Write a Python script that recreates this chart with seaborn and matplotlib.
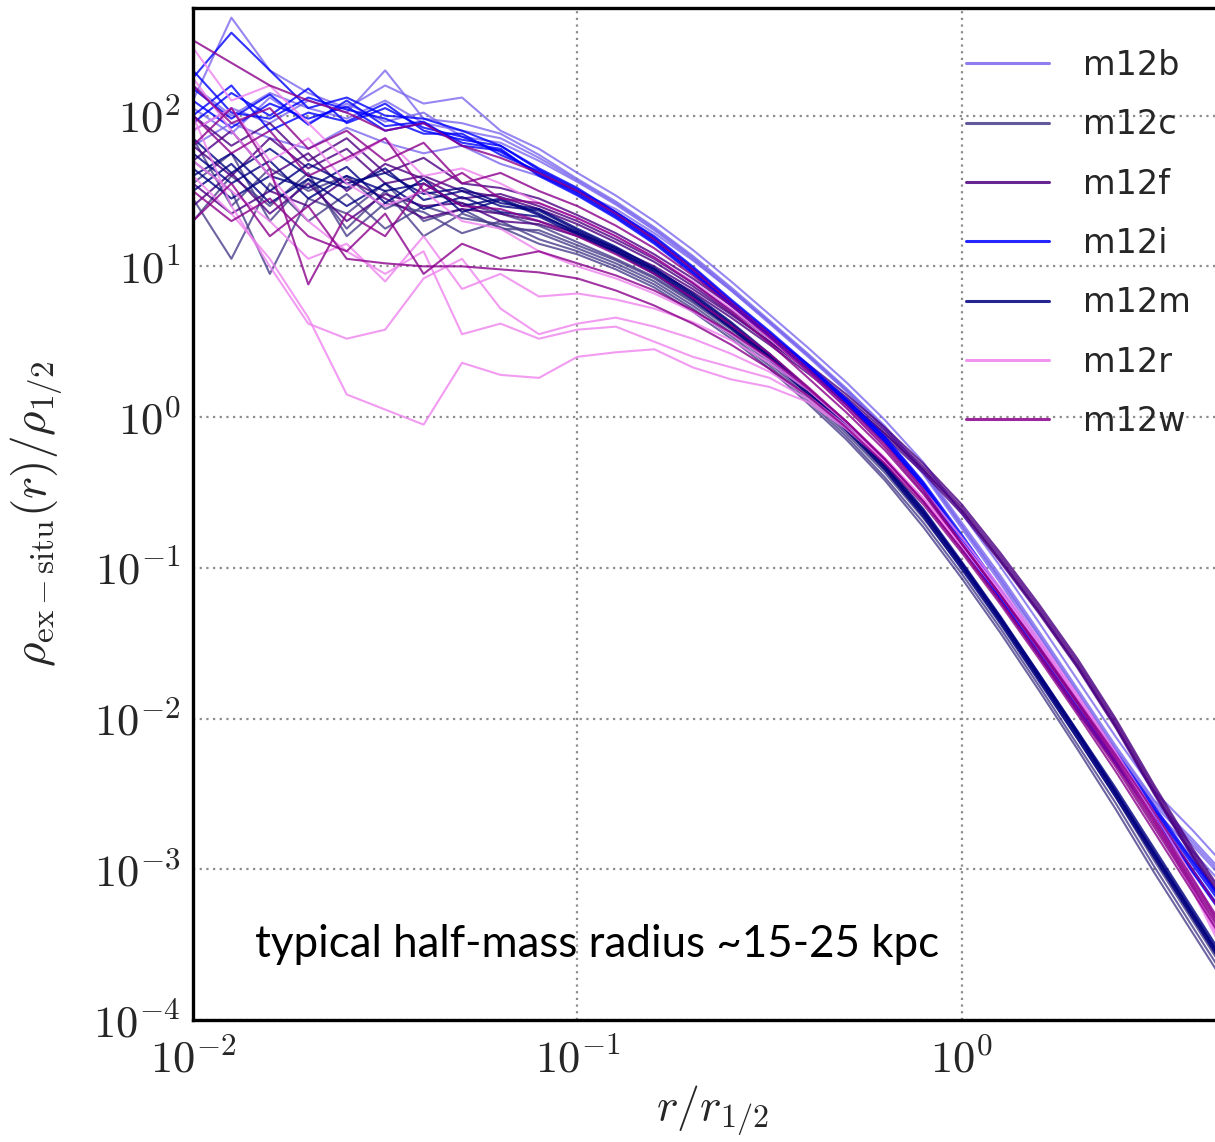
import matplotlib
matplotlib.use("Agg")
import matplotlib.pyplot as plt
import numpy as np
import pandas as pd
import seaborn as sns
from matplotlib.lines import Line2D
from matplotlib.ticker import LogLocator, FuncFormatter, NullFormatter

# log10(r / r_1/2) grid shared by every profile
log_r = [-2.0, -1.9, -1.8, -1.7, -1.6, -1.5, -1.4, -1.3, -1.2, -1.1,
         -1.0, -0.9, -0.8, -0.7, -0.6, -0.5, -0.4, -0.3, -0.2, -0.1,
         0.0, 0.1, 0.2, 0.3, 0.4, 0.5, 0.6, 0.7]

sims = ["m12b", "m12c", "m12f", "m12i", "m12m", "m12r", "m12w"]
sim_colors = ["#7b68ee", "#483d8b", "#4b0082", "#0000ff", "#000080", "#ee82ee", "#8b008b"]

# log10(rho_ex-situ / rho_1/2), several snapshots per halo
m12b = [
    [2.10, 2.65, 2.30, 2.15, 2.05, 2.20, 2.08, 2.12, 1.90, 1.78, 1.62, 1.47, 1.30, 1.11, 0.90, 0.68, 0.46, 0.23, -0.02, -0.30, -0.64, -0.99, -1.36, -1.74, -2.12, -2.48, -2.74, -3.02],
    [1.90, 2.05, 1.95, 2.10, 2.02, 2.30, 1.98, 1.95, 1.88, 1.74, 1.58, 1.43, 1.26, 1.07, 0.86, 0.64, 0.42, 0.19, -0.06, -0.35, -0.70, -1.05, -1.42, -1.80, -2.18, -2.54, -2.80, -3.08],
    [2.05, 1.88, 2.12, 1.95, 2.08, 1.96, 2.02, 1.86, 1.82, 1.70, 1.56, 1.41, 1.24, 1.05, 0.84, 0.62, 0.40, 0.17, -0.08, -0.38, -0.74, -1.10, -1.48, -1.86, -2.24, -2.60, -2.88, -3.16],
    [1.80, 1.95, 1.85, 1.78, 1.92, 1.82, 1.75, 1.80, 1.68, 1.60, 1.50, 1.38, 1.22, 1.04, 0.84, 0.63, 0.41, 0.18, -0.07, -0.36, -0.72, -1.08, -1.45, -1.83, -2.21, -2.57, -2.84, -3.12],
    [2.20, 2.00, 2.15, 2.05, 1.98, 2.10, 1.95, 1.90, 1.85, 1.72, 1.57, 1.42, 1.25, 1.06, 0.85, 0.63, 0.41, 0.18, -0.07, -0.37, -0.72, -1.07, -1.44, -1.82, -2.20, -2.55, -2.82, -3.10],
]
m12c = [
    [1.45, 1.05, 1.55, 1.30, 1.48, 1.25, 1.40, 1.32, 1.28, 1.22, 1.12, 1.02, 0.90, 0.74, 0.56, 0.36, 0.13, -0.11, -0.37, -0.67, -1.00, -1.36, -1.74, -2.13, -2.52, -2.94, -3.34, -3.74],
    [1.70, 1.50, 0.95, 1.45, 1.35, 1.55, 1.30, 1.38, 1.25, 1.24, 1.14, 1.04, 0.92, 0.76, 0.58, 0.38, 0.15, -0.09, -0.35, -0.65, -0.98, -1.34, -1.72, -2.10, -2.50, -2.92, -3.32, -3.72],
    [1.30, 1.60, 1.40, 1.62, 1.20, 1.42, 1.36, 1.22, 1.30, 1.18, 1.10, 1.00, 0.88, 0.72, 0.54, 0.34, 0.11, -0.13, -0.40, -0.70, -1.04, -1.40, -1.78, -2.17, -2.56, -2.98, -3.38, -3.78],
    [1.85, 1.40, 1.65, 1.50, 1.60, 1.38, 1.50, 1.42, 1.35, 1.27, 1.16, 1.05, 0.93, 0.77, 0.59, 0.39, 0.16, -0.08, -0.34, -0.64, -0.97, -1.33, -1.70, -2.08, -2.48, -2.90, -3.30, -3.70],
    [1.55, 1.75, 1.30, 1.58, 1.25, 1.50, 1.20, 1.35, 1.26, 1.15, 1.08, 0.98, 0.86, 0.70, 0.52, 0.32, 0.09, -0.15, -0.42, -0.73, -1.07, -1.43, -1.81, -2.20, -2.60, -3.02, -3.42, -3.82],
]
m12f = [
    [1.70, 1.90, 1.60, 1.75, 1.50, 1.68, 1.58, 1.45, 1.48, 1.40, 1.30, 1.18, 1.05, 0.89, 0.71, 0.52, 0.33, 0.13, -0.09, -0.33, -0.60, -0.92, -1.26, -1.62, -2.02, -2.46, -2.88, -3.26],
    [2.00, 1.80, 1.95, 1.70, 1.85, 1.62, 1.72, 1.55, 1.52, 1.45, 1.34, 1.22, 1.08, 0.92, 0.74, 0.55, 0.35, 0.15, -0.07, -0.31, -0.58, -0.90, -1.24, -1.60, -2.00, -2.44, -2.86, -3.24],
    [1.40, 1.62, 1.35, 1.55, 1.30, 1.48, 1.40, 1.42, 1.30, 1.28, 1.20, 1.10, 0.98, 0.83, 0.66, 0.48, 0.29, 0.09, -0.13, -0.37, -0.64, -0.96, -1.30, -1.66, -2.06, -2.50, -2.92, -3.30],
    [1.80, 1.60, 1.85, 1.65, 1.78, 1.55, 1.60, 1.50, 1.46, 1.38, 1.28, 1.16, 1.03, 0.87, 0.69, 0.50, 0.31, 0.11, -0.11, -0.35, -0.62, -0.94, -1.28, -1.64, -2.04, -2.48, -2.90, -3.28],
    [1.55, 1.35, 1.50, 1.40, 1.58, 1.45, 1.32, 1.38, 1.35, 1.30, 1.22, 1.12, 1.00, 0.85, 0.68, 0.50, 0.31, 0.11, -0.11, -0.35, -0.62, -0.95, -1.29, -1.65, -2.05, -2.49, -2.91, -3.29],
]
m12i = [
    [2.25, 2.55, 2.30, 2.05, 2.12, 2.00, 1.98, 1.90, 1.80, 1.65, 1.52, 1.36, 1.19, 0.99, 0.77, 0.56, 0.34, 0.11, -0.14, -0.44, -0.80, -1.16, -1.52, -1.88, -2.24, -2.60, -2.95, -3.30],
    [1.95, 2.15, 2.00, 2.18, 1.95, 2.05, 1.92, 1.86, 1.76, 1.62, 1.49, 1.34, 1.17, 0.97, 0.75, 0.54, 0.32, 0.09, -0.16, -0.46, -0.83, -1.20, -1.56, -1.92, -2.28, -2.64, -3.00, -3.36],
    [2.10, 1.92, 2.08, 1.98, 2.06, 1.90, 1.95, 1.82, 1.78, 1.60, 1.47, 1.32, 1.15, 0.95, 0.74, 0.53, 0.31, 0.08, -0.17, -0.48, -0.86, -1.22, -1.58, -1.95, -2.30, -2.66, -3.02, -3.38],
    [2.30, 2.02, 1.98, 2.12, 2.04, 1.98, 1.88, 1.88, 1.74, 1.63, 1.50, 1.35, 1.18, 0.98, 0.76, 0.55, 0.33, 0.10, -0.15, -0.45, -0.81, -1.17, -1.53, -1.89, -2.25, -2.61, -2.97, -3.32],
    [2.00, 2.20, 1.90, 2.02, 1.96, 2.08, 1.90, 1.84, 1.80, 1.64, 1.51, 1.36, 1.20, 1.00, 0.78, 0.57, 0.35, 0.12, -0.13, -0.43, -0.78, -1.14, -1.50, -1.86, -2.22, -2.58, -2.94, -3.28],
    [2.18, 1.98, 2.14, 1.94, 2.10, 1.93, 1.96, 1.80, 1.77, 1.61, 1.48, 1.33, 1.16, 0.96, 0.75, 0.54, 0.32, 0.09, -0.16, -0.47, -0.84, -1.21, -1.57, -1.93, -2.29, -2.65, -3.01, -3.37],
]
m12m = [
    [1.60, 1.75, 1.50, 1.68, 1.55, 1.62, 1.48, 1.52, 1.42, 1.38, 1.25, 1.13, 0.99, 0.82, 0.63, 0.42, 0.19, -0.05, -0.31, -0.61, -0.96, -1.32, -1.70, -2.08, -2.46, -2.86, -3.26, -3.66],
    [1.75, 1.55, 1.70, 1.45, 1.60, 1.50, 1.55, 1.40, 1.45, 1.35, 1.22, 1.10, 0.96, 0.79, 0.60, 0.40, 0.17, -0.07, -0.33, -0.64, -0.99, -1.35, -1.73, -2.11, -2.50, -2.90, -3.30, -3.70],
    [1.50, 1.68, 1.42, 1.58, 1.40, 1.55, 1.38, 1.46, 1.36, 1.33, 1.21, 1.09, 0.95, 0.78, 0.59, 0.38, 0.15, -0.09, -0.35, -0.66, -1.01, -1.37, -1.75, -2.13, -2.52, -2.92, -3.32, -3.72],
    [1.85, 1.62, 1.78, 1.60, 1.52, 1.65, 1.44, 1.50, 1.40, 1.37, 1.24, 1.12, 0.98, 0.81, 0.62, 0.41, 0.18, -0.06, -0.32, -0.62, -0.97, -1.33, -1.71, -2.09, -2.48, -2.88, -3.28, -3.68],
    [1.65, 1.45, 1.60, 1.52, 1.66, 1.42, 1.58, 1.36, 1.44, 1.34, 1.23, 1.11, 0.97, 0.80, 0.61, 0.40, 0.17, -0.07, -0.33, -0.63, -0.98, -1.34, -1.72, -2.10, -2.49, -2.89, -3.29, -3.69],
]
m12r = [
    [1.60, 1.35, 1.05, 0.66, 0.15, 0.05, -0.05, 0.36, 0.28, 0.26, 0.40, 0.43, 0.45, 0.33, 0.25, 0.20, 0.10, -0.08, -0.30, -0.56, -0.86, -1.18, -1.52, -1.88, -2.26, -2.68, -3.14, -3.65],
    [2.00, 1.40, 1.00, 0.62, 0.52, 0.58, 0.92, 1.05, 0.72, 0.55, 0.62, 0.66, 0.60, 0.52, 0.42, 0.30, 0.14, -0.06, -0.29, -0.55, -0.84, -1.16, -1.50, -1.86, -2.24, -2.66, -3.12, -3.62],
    [2.25, 1.90, 1.60, 1.30, 1.10, 0.95, 1.10, 0.55, 0.62, 0.52, 0.58, 0.60, 0.50, 0.40, 0.33, 0.26, 0.12, -0.07, -0.29, -0.54, -0.83, -1.15, -1.49, -1.85, -2.23, -2.65, -3.10, -3.60],
    [2.45, 2.10, 2.20, 1.95, 1.70, 1.85, 1.60, 1.65, 1.55, 1.42, 1.32, 1.20, 1.06, 0.90, 0.72, 0.52, 0.30, 0.06, -0.19, -0.48, -0.80, -1.13, -1.47, -1.84, -2.22, -2.62, -3.05, -3.50],
    [1.90, 2.05, 1.70, 1.85, 1.55, 1.40, 1.50, 1.30, 1.25, 1.10, 1.00, 0.92, 0.82, 0.70, 0.55, 0.38, 0.19, -0.03, -0.27, -0.54, -0.85, -1.17, -1.51, -1.87, -2.25, -2.67, -3.12, -3.60],
    [1.70, 1.50, 1.30, 1.05, 1.15, 0.90, 1.20, 0.85, 0.95, 0.80, 0.82, 0.78, 0.72, 0.63, 0.51, 0.36, 0.18, -0.04, -0.28, -0.55, -0.85, -1.17, -1.51, -1.87, -2.25, -2.66, -3.10, -3.58],
]
m12w = [
    [2.50, 2.35, 2.20, 2.10, 2.02, 1.90, 1.95, 1.80, 1.72, 1.62, 1.50, 1.35, 1.18, 0.98, 0.76, 0.55, 0.32, 0.08, -0.18, -0.48, -0.84, -1.18, -1.52, -1.88, -2.24, -2.62, -3.00, -3.38],
    [1.30, 1.55, 1.20, 1.40, 1.05, 1.02, 1.00, 1.00, 0.98, 0.96, 0.92, 0.84, 0.74, 0.62, 0.48, 0.32, 0.14, -0.07, -0.31, -0.58, -0.90, -1.24, -1.60, -1.97, -2.35, -2.75, -3.15, -3.55],
    [1.80, 2.05, 1.65, 0.88, 1.35, 1.20, 1.55, 1.40, 1.38, 1.30, 1.20, 1.08, 0.95, 0.79, 0.61, 0.42, 0.20, -0.03, -0.28, -0.56, -0.88, -1.22, -1.57, -1.93, -2.30, -2.70, -3.10, -3.50],
    [2.00, 1.75, 1.90, 1.60, 1.72, 1.85, 1.50, 1.62, 1.45, 1.42, 1.32, 1.20, 1.06, 0.89, 0.70, 0.49, 0.26, 0.03, -0.22, -0.51, -0.84, -1.18, -1.53, -1.89, -2.26, -2.66, -3.06, -3.46],
    [2.20, 1.95, 2.05, 1.78, 1.90, 1.70, 1.82, 1.55, 1.62, 1.50, 1.40, 1.27, 1.12, 0.94, 0.74, 0.53, 0.30, 0.06, -0.20, -0.50, -0.84, -1.18, -1.54, -1.90, -2.28, -2.68, -3.08, -3.48],
    [1.50, 1.30, 1.45, 1.20, 1.10, 1.35, 0.95, 1.15, 1.05, 1.10, 1.02, 0.94, 0.84, 0.71, 0.56, 0.39, 0.19, -0.03, -0.28, -0.56, -0.88, -1.22, -1.58, -1.95, -2.32, -2.72, -3.12, -3.52],
]
profiles = dict(zip(sims, [m12b, m12c, m12f, m12i, m12m, m12r, m12w]))


def to_frame():
    rows = []
    for sim, lines in profiles.items():
        for k, line in enumerate(lines):
            for lr, lrho in zip(log_r, line):
                rows.append([sim, f"{sim}_{k}", 10 ** lr, 10 ** lrho])
    return pd.DataFrame(rows, columns=["sim", "run", "r", "rho"])


def log_label(val, pos):
    return r"$10^{%d}$" % int(round(np.log10(val)))


df = to_frame()
palette = dict(zip(sims, sim_colors))

sns.set_style("white")
plt.rcParams["mathtext.fontset"] = "cm"
plt.rcParams["font.family"] = ["DejaVu Sans"]

fig = plt.figure(figsize=(12.15, 11.42), dpi=100)
ax = fig.add_axes([0.1588, 0.1068, 0.8543, 0.8862])

sns.lineplot(data=df, x="r", y="rho", hue="sim", units="run", estimator=None,
             palette=palette, hue_order=sims, lw=1.5, alpha=0.8, legend=False,
             sort=True, ax=ax)

ax.set_xscale("log")
ax.set_yscale("log")
ax.set_xlim(1e-2, 10 ** 0.7)
ax.set_ylim(1e-4, 10 ** 2.714)

ax.xaxis.set_major_locator(LogLocator(base=10, numticks=10))
ax.yaxis.set_major_locator(LogLocator(base=10, numticks=10))
ax.xaxis.set_minor_locator(LogLocator(base=10, subs=np.arange(2, 10), numticks=20))
ax.yaxis.set_minor_locator(LogLocator(base=10, subs=np.arange(2, 10), numticks=20))
ax.xaxis.set_major_formatter(FuncFormatter(log_label))
ax.yaxis.set_major_formatter(FuncFormatter(log_label))
ax.xaxis.set_minor_formatter(NullFormatter())
ax.yaxis.set_minor_formatter(NullFormatter())

ax.tick_params(which="major", direction="in", length=13, width=2.2, labelsize=32, pad=9,
               top=False, right=False)
ax.tick_params(axis="x", which="major", pad=13)
ax.tick_params(which="minor", direction="in", length=7.5, width=1.5, top=False, right=False)
ax.grid(True, which="major", color="0.55", linestyle=(0, (1, 2)), linewidth=1.6)
for s in ax.spines.values():
    s.set_linewidth(2.4)
    s.set_color("black")

ax.set_xlabel(r"$r/r_{1/2}$", fontsize=33)
ax.set_ylabel(r"$\rho_{\rm ex-situ}(r)/\rho_{1/2}$", fontsize=34)
ax.xaxis.set_label_coords(0.5, -0.063)
ax.yaxis.set_label_coords(-0.124, 0.5)

ax.text(255 / 1215, 1 - 957 / 1142, "typical half-mass radius ~15-25 kpc",
        transform=fig.transFigure, fontsize=31.6, family=["Lato", "DejaVu Sans"],
        color="black", ha="left", va="baseline")

handles = [Line2D([0], [0], color=c, lw=2.2, alpha=0.85) for c in sim_colors]
fig.legend(handles, sims, loc="upper left", bbox_to_anchor=(966 / 1215, 1 - 49 / 1142),
           frameon=False, fontsize=24, handlelength=2.5, handletextpad=1.0,
           labelspacing=0.79, borderpad=0, borderaxespad=0)

fig.savefig("out.png", dpi=100)
